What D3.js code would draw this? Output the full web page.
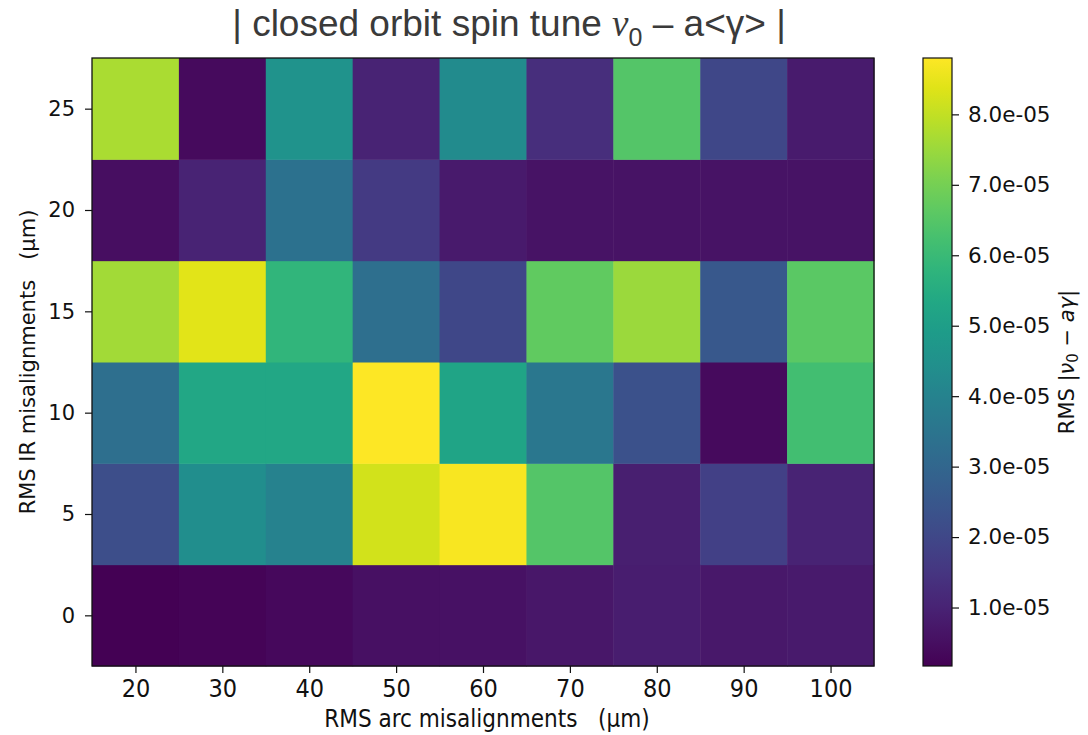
<!DOCTYPE html>
<html>
<head>
<meta charset="utf-8">
<script src="https://cdn.jsdelivr.net/npm/d3@7"></script>
<style>
  body { margin: 0; background: #fff; }
  svg text { font-family: "DejaVu Sans", sans-serif; fill: #111; white-space: pre; }
</style>
</head>
<body>
<svg id="chart" width="1088" height="735"></svg>
<script>
// arc misalignment (x) and IR misalignment (y) in um
const arcValues = [20, 30, 40, 50, 60, 70, 80, 90, 100];
const irValues = [0, 5, 10, 15, 20, 25];

// rms |nu0 - a gamma| per IR row, one value per arc column
const row0  = [0.17e-5, 0.26e-5, 0.34e-5, 0.52e-5, 0.56e-5, 0.69e-5, 0.86e-5, 0.73e-5, 0.77e-5];
const row5  = [2.2e-5, 4.4e-5, 4.0e-5, 8.2e-5, 8.7e-5, 6.5e-5, 0.9e-5, 1.8e-5, 1.0e-5];
const row10 = [3.3e-5, 5.3e-5, 5.3e-5, 8.8e-5, 5.2e-5, 3.6e-5, 2.3e-5, 0.4e-5, 6.2e-5];
const row15 = [7.6e-5, 8.4e-5, 5.8e-5, 3.3e-5, 2.0e-5, 6.7e-5, 7.5e-5, 2.5e-5, 6.6e-5];
const row20 = [0.5e-5, 1.0e-5, 3.4e-5, 1.64e-5, 0.77e-5, 0.6e-5, 0.6e-5, 0.6e-5, 0.6e-5];
const row25 = [7.7e-5, 0.4e-5, 4.6e-5, 1.0e-5, 4.3e-5, 1.3e-5, 6.5e-5, 2.0e-5, 0.8e-5];
const rows = [row0, row5, row10, row15, row20, row25];

const cbTicks = [1e-5, 2e-5, 3e-5, 4e-5, 5e-5, 6e-5, 7e-5, 8e-5];
const vMin = 0.17e-5, vMax = 8.8e-5;

const svg = d3.select("#chart");
const plotLeft = 92, plotRight = 874, plotTop = 58, plotBottom = 666;
const cbLeft = 923, cbRight = 952;
const condensed = "'DejaVu Sans Condensed', 'DejaVu Sans'";

const x = d3.scaleLinear().domain([15, 105]).range([plotLeft, plotRight]);
const y = d3.scaleLinear().domain([-2.5, 27.5]).range([plotBottom, plotTop]);
const color = d3.scaleSequential(d3.interpolateViridis).domain([vMin, vMax]);

let cells = [];
rows.forEach((r, i) => r.forEach((v, j) => cells.push({ arc: arcValues[j], ir: irValues[i], v: v })));

svg.append("g").selectAll("rect").data(cells).join("rect")
  .attr("x", d => x(d.arc - 5))
  .attr("y", d => y(d.ir + 2.5))
  .attr("width", d => x(d.arc + 5) - x(d.arc - 5) + 0.5)
  .attr("height", d => y(d.ir - 2.5) - y(d.ir + 2.5) + 0.5)
  .attr("fill", d => color(d.v));

svg.append("rect").attr("x", plotLeft).attr("y", plotTop)
  .attr("width", plotRight - plotLeft).attr("height", plotBottom - plotTop)
  .attr("fill", "none").attr("stroke", "#111").attr("stroke-width", 1.3);

const xAxis = svg.append("g").attr("transform", `translate(0,${plotBottom})`)
  .call(d3.axisBottom(x).tickValues(arcValues).tickSize(7).tickPadding(6));
xAxis.select(".domain").remove();
xAxis.selectAll("text").attr("font-size", 25).style("font-family", condensed);

const yAxis = svg.append("g").attr("transform", `translate(${plotLeft},0)`)
  .call(d3.axisLeft(y).tickValues(irValues).tickSize(7).tickPadding(10));
yAxis.select(".domain").remove();
yAxis.selectAll("text").attr("font-size", 21);

svg.selectAll(".tick line").attr("stroke", "#111").attr("stroke-width", 1.2);

svg.append("text").attr("x", (plotLeft + plotRight) / 2 + 4).attr("y", 727)
  .attr("text-anchor", "middle").attr("font-size", 24)
  .style("font-family", condensed)
  .text("RMS arc misalignments   (\u00b5m)");

svg.append("text").attr("transform", `translate(35,${(plotTop + plotBottom) / 2}) rotate(-90)`)
  .attr("text-anchor", "middle").attr("font-size", 21)
  .text("RMS IR misalignments   (\u00b5m)");

// title
const title = svg.append("text").attr("x", 509).attr("y", 36)
  .attr("text-anchor", "middle").attr("font-size", 37)
  .style("font-family", "'Liberation Sans', Arial, sans-serif").style("fill", "#3a3a3a");
title.append("tspan").text("| closed orbit spin tune ");
title.append("tspan").style("font-family", "'Liberation Serif', serif").style("font-style", "italic").text("\u03bd");
title.append("tspan").attr("dy", 10).attr("font-size", 25).text("0");
title.append("tspan").attr("dy", -10).text(" \u2013 a<\u03b3> |");

// colorbar
const cbScale = d3.scaleLinear().domain([vMin, vMax]).range([plotBottom, plotTop]);
const grad = svg.append("defs").append("linearGradient").attr("id", "cb")
  .attr("x1", 0).attr("y1", 1).attr("x2", 0).attr("y2", 0);
grad.selectAll("stop").data(d3.range(0, 1.0001, 0.05)).join("stop")
  .attr("offset", d => d).attr("stop-color", d => d3.interpolateViridis(d));
svg.append("rect").attr("x", cbLeft).attr("y", plotTop)
  .attr("width", cbRight - cbLeft).attr("height", plotBottom - plotTop)
  .attr("fill", "url(#cb)").attr("stroke", "#111").attr("stroke-width", 1.2);

const cbAxis = svg.append("g").attr("transform", `translate(${cbRight},0)`)
  .call(d3.axisRight(cbScale).tickValues(cbTicks).tickSize(7).tickPadding(9)
    .tickFormat(d => d.toExponential(1).replace("e-", "e-0")));
cbAxis.select(".domain").remove();
cbAxis.selectAll("text").attr("font-size", 21.5);
cbAxis.selectAll(".tick line").attr("stroke", "#111").attr("stroke-width", 1.2);

const cbLabel = svg.append("text").attr("transform", `translate(1074,${(plotTop + plotBottom) / 2}) rotate(-90)`)
  .attr("text-anchor", "middle").attr("font-size", 21);
cbLabel.append("tspan").text("RMS |");
cbLabel.append("tspan").style("font-style", "italic").text("\u03bd");
cbLabel.append("tspan").attr("dy", 4).attr("font-size", 15).text("0");
cbLabel.append("tspan").attr("dy", -4).text(" \u2212 ");
cbLabel.append("tspan").style("font-style", "italic").text("a\u03b3");
cbLabel.append("tspan").text("|");
</script>
</body>
</html>
